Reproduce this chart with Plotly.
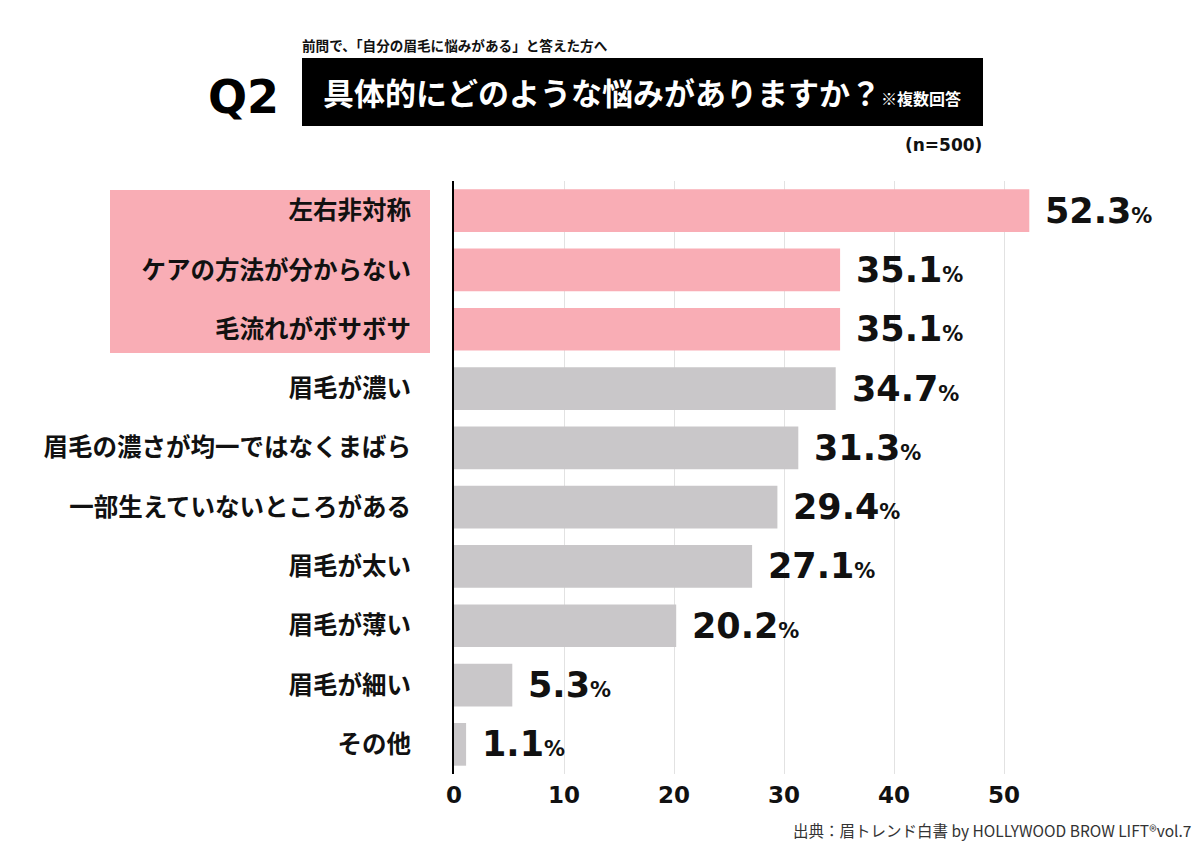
import plotly.graph_objects as go

categories = ["左右非対称", "ケアの方法が分からない", "毛流れがボサボサ", "眉毛が濃い",
              "眉毛の濃さが均一ではなくまばら", "一部生えていないところがある",
              "眉毛が太い", "眉毛が薄い", "眉毛が細い", "その他"]
values = [52.3, 35.1, 35.1, 34.7, 31.3, 29.4, 27.1, 20.2, 5.3, 1.1]
highlight = [True, True, True, False, False, False, False, False, False, False]
x_ticks = [0, 10, 20, 30, 40, 50]

PINK = "#F9ADB5"
GRAY = "#C9C7C9"
JP = "Noto Sans CJK JP"
NUM = "DejaVu Sans"

colors = [PINK if h else GRAY for h in highlight]

fig = go.Figure()
fig.add_trace(go.Bar(
    x=values, y=categories, orientation="h",
    marker=dict(color=colors, line=dict(width=0)),
    width=0.72, hoverinfo="skip",
))

for c, v in zip(categories, values):
    fig.add_annotation(
        x=v, y=c, xref="x", yref="y", xanchor="left", yanchor="middle",
        xshift=14, showarrow=False,
        text=f"<b>{v:.1f}</b><span style='font-size:21px'><b>%</b></span>",
        font=dict(family=NUM, size=35, color="#111111"),
    )

W, H = 1200, 848
L, R, T, B = 454, 141, 181, 74

def px(xp):
    return (xp - L) / (W - L - R)

def py(yp):
    return (H - B - yp) / (H - T - B)

# pink highlight box behind the top three labels
fig.add_shape(type="rect", xref="paper", yref="y",
              x0=px(110), x1=px(430),
              y0=-0.35, y1=2.4, fillcolor=PINK, line=dict(width=0), layer="below")

# title black box
fig.add_shape(type="rect", xref="paper", yref="paper",
              x0=px(302), x1=px(983), y0=py(126), y1=py(58),
              fillcolor="#000000", line=dict(width=0))

fig.add_annotation(xref="paper", yref="paper", x=px(321), y=py(92), xanchor="left", yanchor="middle",
                   showarrow=False,
                   text="<b>具体的にどのような悩みがありますか？</b><span style='font-size:16px'><b>※複数回答</b></span>",
                   font=dict(family=JP, size=31, color="#FFFFFF"))
fig.add_annotation(xref="paper", yref="paper", x=px(206), y=py(97), xanchor="left", yanchor="middle",
                   showarrow=False, text="<b>Q2</b>",
                   font=dict(family=NUM, size=46, color="#000000"))
fig.add_annotation(xref="paper", yref="paper", x=px(300), y=py(45), xanchor="left", yanchor="middle",
                   showarrow=False, text="<b>前問で、「自分の眉毛に悩みがある」と答えた方へ</b>",
                   font=dict(family=JP, size=13.6, color="#111111"))
fig.add_annotation(xref="paper", yref="paper", x=px(984), y=py(145), xanchor="right", yanchor="middle",
                   showarrow=False, text="<b>(n=500)</b>",
                   font=dict(family=NUM, size=17, color="#111111"))
fig.add_annotation(xref="paper", yref="paper", x=px(1193), y=py(830), xanchor="right", yanchor="middle",
                   showarrow=False, text="出典：眉トレンド白書 by HOLLYWOOD BROW LIFT®vol.7",
                   font=dict(family=JP, size=15.5, color="#333333"))

fig.update_layout(
    width=W, height=H,
    margin=dict(l=L, r=R, t=T, b=B, pad=0),
    paper_bgcolor="#FFFFFF", plot_bgcolor="#FFFFFF",
    showlegend=False, bargap=0.28,
    xaxis=dict(range=[0, 55], tickvals=x_ticks, ticktext=[f"<b>{t}</b>" for t in x_ticks],
               showgrid=True, gridcolor="#E2E2E2", gridwidth=1, zeroline=False,
               showline=False, ticks="",
               tickfont=dict(family=NUM, size=23, color="#111111"),
               ticklabelstandoff=5, fixedrange=True),
    yaxis=dict(categoryorder="array", categoryarray=categories, autorange="reversed",
               showgrid=False, zeroline=False, showline=True, linecolor="#000000", linewidth=2,
               ticks="", tickfont=dict(family=JP, size=24.5, color="#111111"),
               ticklabelstandoff=36, fixedrange=True),
)
fig.update_yaxes(tickprefix="<b>", ticksuffix="</b>")

fig.write_html("out.html")
